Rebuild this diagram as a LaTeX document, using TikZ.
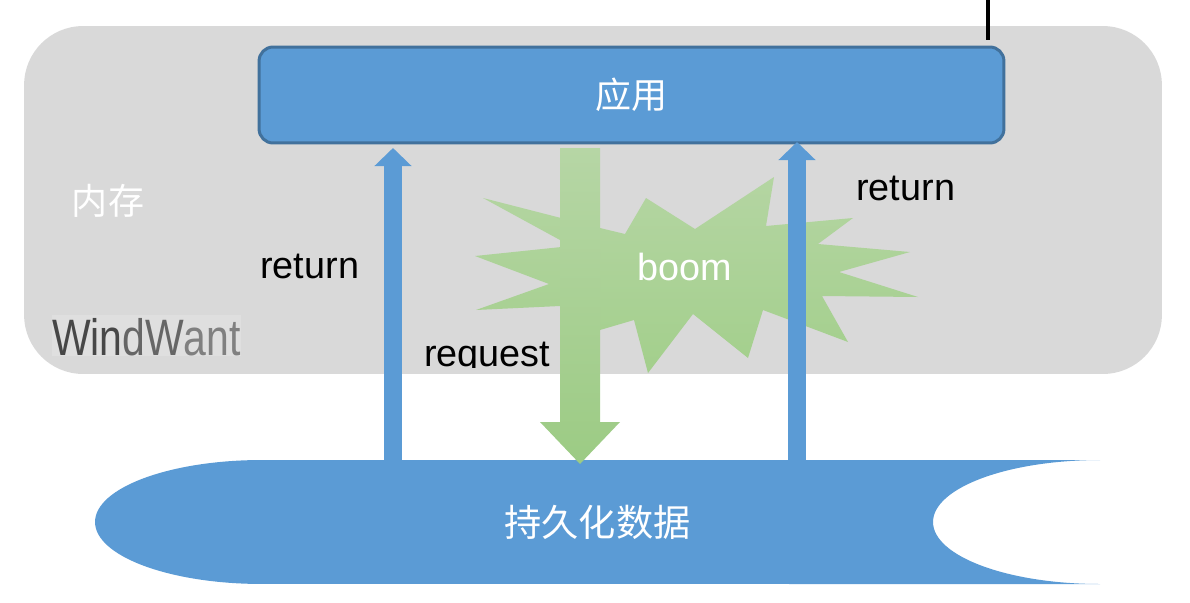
\documentclass[tikz,border=0pt]{standalone}
\usepackage{fontspec}
\setmainfont{Liberation Sans}
\newfontfamily\cjk{Noto Sans CJK SC}
\usetikzlibrary{positioning}
\usetikzlibrary{arrows.meta}
\definecolor{memgray}{HTML}{D9D9D9}
\definecolor{appblue}{HTML}{5B9BD5}
\definecolor{appedge}{HTML}{41719C}
\definecolor{greentop}{HTML}{B6D6A5}
\definecolor{greenbottom}{HTML}{9CCB84}
\definecolor{startop}{HTML}{B4D5A2}
\definecolor{starbottom}{HTML}{A3CF8C}
\tikzset{
  labeltext/.style={font=\fontsize{21.5}{24}\selectfont,inner sep=0pt},
  cjktext/.style={font=\fontsize{20.5}{24}\selectfont\cjk,text=white,inner sep=0pt},
  retarrow/.style={draw=appblue,line width=0.36cm,-{Triangle[length=0.36cm,width=0.72cm]}}
}
\begin{document}
\begin{tikzpicture}[x=0.02cm,y=-0.02cm]
\useasboundingbox (0,0) rectangle (1190,602);
\node[fill=memgray,rounded corners=1.18cm,minimum width=22.76cm,minimum height=6.96cm,inner sep=0pt] (mem) at (593,200) {};
\node[fill=white!15!memgray,minimum width=3.78cm,minimum height=0.82cm,inner sep=0pt] (markbg) at (146.5,335.5) {};
\node[inner sep=0pt,font=\fontsize{23.3}{24}\selectfont] (mark) at (146.5,337) {\scalebox{1}[1.25]{\textcolor{black!72}{Win}\textcolor{black!60}{dW}\textcolor{black!50}{ant}}};
\node[cjktext] (memlabel) at (108,201) {内存};
\draw[line width=3.5*0.02cm,black] (988,0) coordinate (wiretop) -- (988,40) coordinate (wireend);
\shade[top color=startop,bottom color=starbottom] (483,198)--(600,228)--(625,234)--(646,198)--(695,229)--(774,177)--(766,226)--(853,218)--(818,244)--(910,252)--(839,272)--(918,297)--(822,296)--(848,342)--(763,310)--(748,358)--(693,314)--(648,373)--(634,320)--(600,330)--(580,320)--(560,306)--(476,310)--(549,284)--(475,256)--(571,246)--cycle;
\node[labeltext,text=white,anchor=base] (boom) at (685,280) {boom};
\fill[appblue] (262,460) arc[start angle=90,end angle=270,x radius=3.34cm,y radius=1.24cm] -- (1100,584) arc[start angle=270,end angle=90,x radius=3.34cm,y radius=1.24cm] -- cycle;
\node[cjktext,font=\fontsize{21.2}{24}\selectfont\cjk,minimum width=20.1cm,minimum height=2.48cm] (data) at (597.5,522) {持久化数据};
\coordinate (reqstart) at (580,148);
\coordinate (reqtip) at (580,464);
\shade[top color=greentop,bottom color=greenbottom] (reqstart) ++(-20,0) -- ++(40,0) -- ++(0,274) -- ++(20,0) -- (reqtip) -- ++(-40,-42) -- ++(20,0) -- cycle;
\node[fill=appblue,draw=appedge,line width=3*0.02cm,rounded corners=0.28cm,minimum width=14.9cm,minimum height=1.92cm,cjktext,inner sep=0pt] (app) at (631.5,95) {\raisebox{-1pt}{应用}};
\coordinate (lefttip) at (393,148);
\coordinate (righttip) at (797,142);
\draw[retarrow] (data.north -| lefttip) -- (lefttip);
\draw[retarrow] (data.north -| righttip) -- (righttip);
\node[labeltext,anchor=base west] (retleft) at (260,278) {return};
\node[labeltext,anchor=base west] (retright) at (856,200) {return};
\begin{scope}
\clip (400,320) rectangle (560,367);
\node[labeltext,anchor=base west] (request) at (424,366) {request};
\end{scope}
\end{tikzpicture}
\end{document}
